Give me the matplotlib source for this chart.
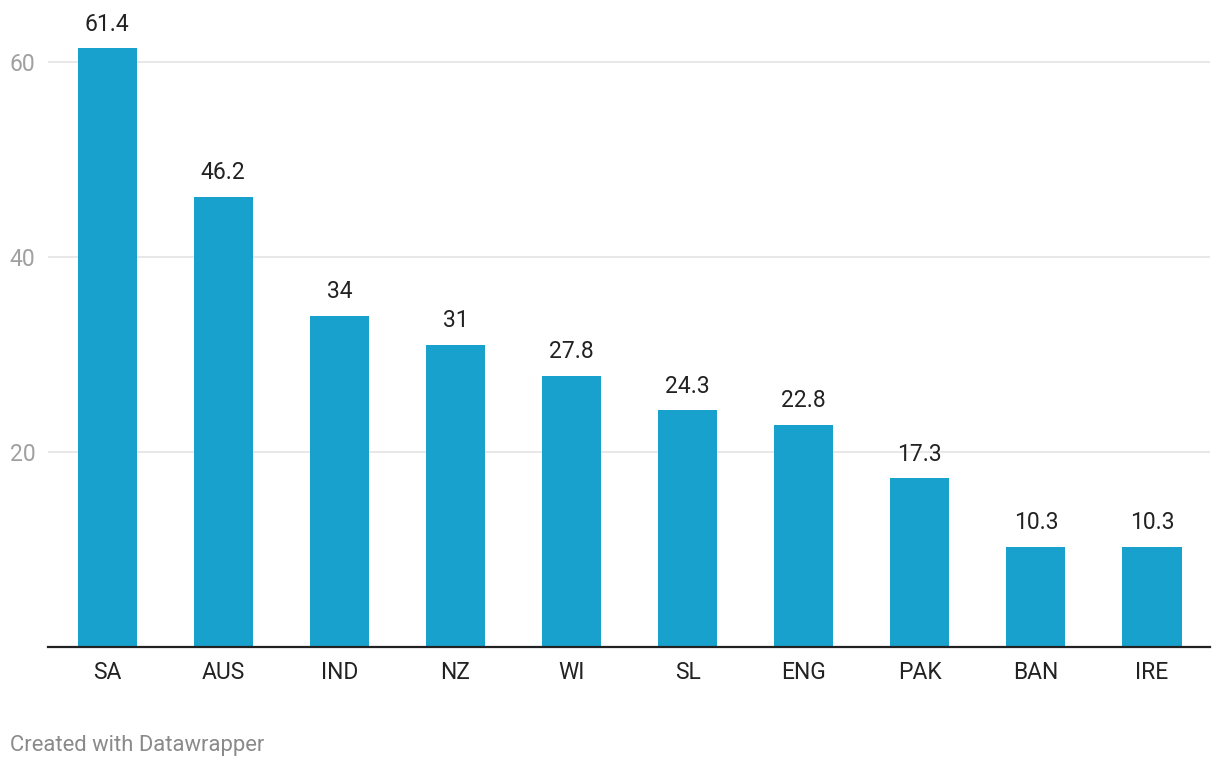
import matplotlib.pyplot as plt

plt.rcParams['font.family'] = ['Roboto', 'DejaVu Sans']

teams = ['SA', 'AUS', 'IND', 'NZ', 'WI', 'SL', 'ENG', 'PAK', 'BAN', 'IRE']
values = [61.4, 46.2, 34, 31, 27.8, 24.3, 22.8, 17.3, 10.3, 10.3]
value_labels = ['61.4', '46.2', '34', '31', '27.8', '24.3', '22.8', '17.3', '10.3', '10.3']
yticks = [20, 40, 60]

fig = plt.figure(figsize=(12.2, 7.68), dpi=100)
ax = fig.add_axes([48 / 1220, 1 - 647 / 768, (1210 - 48) / 1220, (647 - 40) / 768])

x = list(range(len(teams)))
ax.bar(x, values, width=0.51, color='#18a1cd', zorder=3)

for xi, v, lab in zip(x, values, value_labels):
    ax.annotate(lab, (xi, v), xytext=(0, 9), textcoords='offset points',
                ha='center', va='bottom', fontsize=16.5, color='#222222')

ax.set_xlim(-0.51, 9.5)
ax.set_ylim(0, 62.26)
ax.set_xticks(x)
ax.set_xticklabels(teams, fontsize=16.5, color='#222222')
ax.set_yticks(yticks)
ax.set_yticklabels([str(t) for t in yticks], fontsize=16.5, color='#a0a0a0')
ax.tick_params(axis='x', length=0, pad=10)
ax.tick_params(axis='y', length=0, pad=9)
ax.grid(axis='y', color='#e4e4e4', linewidth=1.2, zorder=0)

for s in ['top', 'right', 'left']:
    ax.spines[s].set_visible(False)
ax.spines['bottom'].set_color('#222222')
ax.spines['bottom'].set_linewidth(1.6)
ax.spines['bottom'].set_zorder(4)

fig.text(10 / 1220, 1 - 745 / 768, 'Created with Datawrapper', fontsize=15.8,
         color='#8a8a8a', ha='left', va='center')

fig.savefig('out.png', dpi=100)
